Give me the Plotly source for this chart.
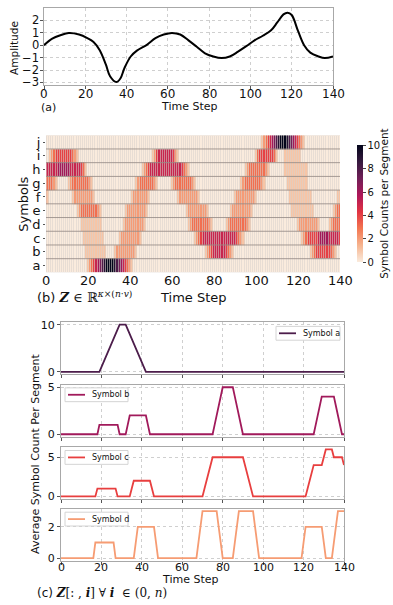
import plotly.graph_objects as go

# ---------------- data ----------------
# (a) signal samples
sig_t = [0, 4, 8, 12, 17, 21, 24, 27, 30, 32, 35, 37, 39, 42, 45, 50, 54, 58, 62, 66, 70,
         74, 78, 82, 86, 90, 94, 98, 102, 106, 110, 113, 116, 118, 120, 123, 126, 129, 133, 136, 140]
sig_v = [0.0, 0.52, 0.80, 0.98, 0.86, 0.57, 0.26, -0.40, -1.57, -2.50, -2.97, -2.68, -1.83, -0.91,
         -0.44, 0.05, 0.57, 0.86, 0.99, 0.86, 0.39, -0.13, -0.65, -0.91, -1.04, -0.91, -0.52, -0.08,
         0.39, 0.76, 1.20, 1.83, 2.48, 2.62, 2.43, 1.17, 0.0, -0.60, -0.91, -1.04, -0.91]
amp_tick_values = [-3, -2, -1, 0, 1, 2]

time_steps = list(range(141))
symbols = ["a", "b", "c", "d", "e", "f", "g", "h", "i", "j"]
x_tick_values = [0, 20, 40, 60, 80, 100, 120, 140]

sym_a = [0, 0, 0, 0, 0, 0, 0, 0, 0, 0,
         0, 0, 0, 0, 0, 0, 0, 0, 0, 0,
         1, 2, 3, 4, 5, 6, 7, 8, 9, 10,
         10, 10, 10, 9, 8, 7, 6, 5, 4, 3,
         2, 1, 0, 0, 0, 0, 0, 0, 0, 0,
         0, 0, 0, 0, 0, 0, 0, 0, 0, 0,
         0, 0, 0, 0, 0, 0, 0, 0, 0, 0,
         0, 0, 0, 0, 0, 0, 0, 0, 0, 0,
         0, 0, 0, 0, 0, 0, 0, 0, 0, 0,
         0, 0, 0, 0, 0, 0, 0, 0, 0, 0,
         0, 0, 0, 0, 0, 0, 0, 0, 0, 0,
         0, 0, 0, 0, 0, 0, 0, 0, 0, 0,
         0, 0, 0, 0, 0, 0, 0, 0, 0, 0,
         0, 0, 0, 0, 0, 0, 0, 0, 0, 0,
         0]
sym_b = [0, 0, 0, 0, 0, 0, 0, 0, 0, 0,
         0, 0, 0, 0, 0, 0, 0, 0, 0, 1,
         1, 1, 1, 1, 1, 1, 1, 1, 1, 0,
         0, 0, 0, 1, 2, 2, 2, 2, 2, 2,
         2, 2, 2, 1, 0, 0, 0, 0, 0, 0,
         0, 0, 0, 0, 0, 0, 0, 0, 0, 0,
         0, 0, 0, 0, 0, 0, 0, 0, 0, 0,
         0, 0, 0, 0, 0, 0, 1, 2, 3, 4,
         5, 5, 5, 5, 5, 5, 4, 3, 2, 1,
         0, 0, 0, 0, 0, 0, 0, 0, 0, 0,
         0, 0, 0, 0, 0, 0, 0, 0, 0, 0,
         0, 0, 0, 0, 0, 0, 0, 0, 0, 0,
         0, 0, 0, 0, 0, 0, 1, 2, 3, 4,
         4, 4, 4, 4, 4, 4, 3, 2, 1, 0,
         0]
sym_c = [0, 0, 0, 0, 0, 0, 0, 0, 0, 0,
         0, 0, 0, 0, 0, 0, 0, 0, 1, 1,
         1, 1, 1, 1, 1, 1, 1, 1, 0, 0,
         0, 0, 0, 0, 0, 1, 2, 2, 2, 2,
         2, 2, 2, 2, 2, 1, 0, 0, 0, 0,
         0, 0, 0, 0, 0, 0, 0, 0, 0, 0,
         0, 0, 0, 0, 0, 0, 0, 0, 0, 0,
         0, 1, 2, 3, 4, 5, 5, 5, 5, 5,
         5, 5, 5, 5, 5, 5, 5, 5, 5, 5,
         5, 4, 3, 2, 1, 0, 0, 0, 0, 0,
         0, 0, 0, 0, 0, 0, 0, 0, 0, 0,
         0, 0, 0, 0, 0, 0, 0, 0, 0, 0,
         0, 0, 1, 2, 3, 4, 4, 4, 4, 4,
         5, 6, 6, 6, 6, 5, 5, 5, 5, 5,
         4]
sym_d = [0, 0, 0, 0, 0, 0, 0, 0, 0, 0,
         0, 0, 0, 0, 0, 0, 0, 1, 1, 1,
         1, 1, 1, 1, 1, 1, 1, 0, 0, 0,
         0, 0, 0, 0, 0, 0, 0, 1, 2, 2,
         2, 2, 2, 2, 2, 2, 2, 1, 0, 0,
         0, 0, 0, 0, 0, 0, 0, 0, 0, 0,
         0, 0, 0, 0, 0, 0, 0, 0, 1, 2,
         3, 3, 3, 3, 3, 3, 3, 3, 2, 1,
         0, 0, 0, 0, 0, 0, 1, 2, 3, 3,
         3, 3, 3, 3, 3, 3, 2, 1, 0, 0,
         0, 0, 0, 0, 0, 0, 0, 0, 0, 0,
         0, 0, 0, 0, 0, 0, 0, 0, 0, 0,
         1, 2, 2, 2, 2, 2, 2, 2, 2, 2,
         1, 0, 0, 0, 0, 1, 2, 3, 3, 3,
         3]
sym_e = [0, 0, 0, 0, 0, 0, 0, 0, 0, 0,
         0, 0, 0, 0, 0, 1, 2, 3, 3, 3,
         3, 3, 3, 3, 3, 2, 1, 0, 0, 0,
         0, 0, 0, 0, 0, 0, 0, 0, 1, 2,
         2, 2, 2, 2, 2, 2, 2, 2, 1, 0,
         0, 0, 0, 0, 0, 0, 0, 0, 0, 0,
         0, 0, 0, 0, 0, 0, 0, 1, 2, 2,
         2, 2, 2, 2, 2, 2, 2, 1, 0, 0,
         0, 0, 0, 0, 0, 0, 0, 0, 1, 2,
         2, 2, 2, 2, 2, 2, 2, 2, 1, 0,
         0, 0, 0, 0, 0, 0, 0, 0, 0, 0,
         0, 0, 0, 0, 0, 0, 0, 1, 1, 1,
         1, 1, 1, 1, 1, 1, 1, 1, 0, 0,
         0, 0, 0, 0, 0, 0, 0, 1, 2, 3,
         3]
sym_f = [2, 1, 0, 0, 0, 0, 0, 0, 0, 0,
         0, 0, 0, 1, 2, 2, 2, 2, 2, 2,
         2, 2, 2, 1, 0, 0, 0, 0, 0, 0,
         0, 0, 0, 0, 0, 0, 0, 0, 0, 0,
         0, 1, 2, 2, 2, 2, 2, 2, 2, 1,
         0, 0, 0, 0, 0, 0, 0, 0, 0, 0,
         0, 0, 0, 1, 2, 2, 2, 2, 2, 2,
         2, 2, 2, 1, 0, 0, 0, 0, 0, 0,
         0, 0, 0, 0, 0, 0, 0, 0, 0, 0,
         1, 2, 2, 2, 2, 2, 2, 2, 2, 2,
         1, 0, 0, 0, 0, 0, 0, 0, 0, 0,
         0, 0, 0, 0, 0, 0, 1, 1, 1, 1,
         1, 1, 1, 1, 1, 1, 1, 0, 0, 0,
         0, 0, 0, 0, 0, 0, 0, 0, 0, 1,
         1]
sym_g = [3, 3, 3, 3, 2, 1, 0, 0, 0, 0,
         0, 1, 2, 3, 3, 3, 3, 3, 3, 3,
         3, 2, 1, 0, 0, 0, 0, 0, 0, 0,
         0, 0, 0, 0, 0, 0, 0, 0, 0, 0,
         0, 0, 0, 1, 2, 3, 3, 3, 3, 3,
         3, 3, 2, 1, 0, 0, 0, 0, 0, 0,
         1, 2, 3, 3, 3, 3, 3, 3, 3, 3,
         2, 1, 0, 0, 0, 0, 0, 0, 0, 0,
         0, 0, 0, 0, 0, 0, 0, 0, 0, 0,
         0, 0, 0, 1, 2, 3, 3, 3, 3, 3,
         3, 3, 3, 2, 1, 0, 0, 0, 0, 0,
         0, 0, 0, 0, 0, 1, 1, 1, 1, 1,
         1, 1, 1, 1, 1, 0, 0, 0, 0, 0,
         0, 0, 0, 0, 0, 0, 0, 0, 0, 0,
         0]
sym_h = [5, 5, 5, 5, 5, 5, 6, 6, 6, 6,
         6, 6, 5, 5, 5, 5, 5, 4, 3, 1,
         0, 0, 0, 0, 0, 0, 0, 0, 0, 0,
         0, 0, 0, 0, 0, 0, 0, 0, 0, 0,
         0, 0, 0, 0, 0, 0, 1, 2, 3, 4,
         5, 5, 5, 5, 5, 5, 5, 5, 5, 5,
         5, 5, 5, 5, 5, 4, 3, 2, 1, 0,
         0, 0, 0, 0, 0, 0, 0, 0, 0, 0,
         0, 0, 0, 0, 0, 0, 0, 0, 0, 0,
         0, 0, 0, 0, 0, 1, 2, 3, 3, 3,
         3, 3, 3, 3, 3, 2, 1, 0, 0, 0,
         0, 0, 0, 0, 1, 1, 1, 1, 1, 1,
         1, 1, 1, 1, 1, 0, 0, 0, 0, 0,
         0, 0, 0, 0, 0, 0, 0, 0, 0, 0,
         0]
sym_i = [0, 0, 1, 2, 3, 4, 4, 4, 4, 4,
         4, 4, 4, 3, 2, 1, 0, 0, 0, 0,
         0, 0, 0, 0, 0, 0, 0, 0, 0, 0,
         0, 0, 0, 0, 0, 0, 0, 0, 0, 0,
         0, 0, 0, 0, 0, 0, 0, 0, 0, 0,
         0, 1, 2, 4, 5, 5, 5, 5, 5, 5,
         5, 4, 2, 1, 0, 0, 0, 0, 0, 0,
         0, 0, 0, 0, 0, 0, 0, 0, 0, 0,
         0, 0, 0, 0, 0, 0, 0, 0, 0, 0,
         0, 0, 0, 0, 0, 0, 0, 0, 0, 0,
         1, 3, 4, 4, 4, 4, 4, 4, 4, 3,
         1, 0, 0, 0, 1, 1, 1, 1, 1, 1,
         1, 1, 0, 0, 0, 0, 0, 0, 0, 0,
         0, 0, 0, 0, 0, 0, 0, 0, 0, 0,
         0]
sym_j = [0, 0, 0, 0, 0, 0, 0, 0, 0, 0,
         0, 0, 0, 0, 0, 0, 0, 0, 0, 0,
         0, 0, 0, 0, 0, 0, 0, 0, 0, 0,
         0, 0, 0, 0, 0, 0, 0, 0, 0, 0,
         0, 0, 0, 0, 0, 0, 0, 0, 0, 0,
         0, 0, 0, 0, 0, 0, 0, 0, 0, 0,
         0, 0, 0, 0, 0, 0, 0, 0, 0, 0,
         0, 0, 0, 0, 0, 0, 0, 0, 0, 0,
         0, 0, 0, 0, 0, 0, 0, 0, 0, 0,
         0, 0, 0, 0, 0, 0, 0, 0, 0, 0,
         0, 0, 0, 1, 2, 3, 4, 5, 6, 7,
         8, 9, 10, 10, 10, 9, 8, 7, 6, 5,
         4, 3, 2, 1, 0, 0, 0, 0, 0, 0,
         0, 0, 0, 0, 0, 0, 0, 0, 0, 0,
         0]

rows = [sym_a, sym_b, sym_c, sym_d, sym_e, sym_f, sym_g, sym_h, sym_i, sym_j]
for r in rows:
    assert len(r) == 141, len(r)

line_names = ["Symbol a", "Symbol b", "Symbol c", "Symbol d"]
line_colors = ["#4c1d4b", "#a11a5b", "#e83f3f", "#f69c73"]

rocket_r = [[0.0, "#faebdd"], [1 / 7, "#f6b48f"], [2 / 7, "#f37651"], [3 / 7, "#e13342"],
            [4 / 7, "#ad1759"], [5 / 7, "#701f57"], [6 / 7, "#35193e"], [1.0, "#03051a"]]

# ---------------- layout helpers ----------------
W, H = 393, 605
FONT = "DejaVu Sans"
TXT = "#111111"
SPINE = "#a8a8a8"
GRID = "#cfcfcf"


def fx(p):
    return p / W


def fy(p):
    return 1 - p / H


fig = go.Figure()

# (a) signal
fig.add_trace(go.Scatter(x=sig_t, y=sig_v, mode="lines",
                         line=dict(color="black", width=2, shape="spline", smoothing=1.0),
                         xaxis="x", yaxis="y", showlegend=False, hoverinfo="skip"))

# (b) heatmap
fig.add_trace(go.Heatmap(
    z=rows, x=time_steps, y=list(range(10)), colorscale=rocket_r, zmin=0, zmax=10,
    xgap=0.55, xaxis="x2", yaxis="y2", showscale=True, hoverinfo="skip",
    colorbar=dict(x=fx(357), xanchor="left", xpad=0, y=fy(202.5), yanchor="middle",
                  len=139 / H, lenmode="fraction", thickness=6, outlinewidth=0,
                  tickvals=[0, 2, 4, 6, 8, 10], ticks="outside", ticklen=3,
                  tickfont=dict(family=FONT, size=10, color=TXT)),
))

# (c) line panels
for k in range(4):
    fig.add_trace(go.Scatter(x=time_steps, y=rows[k], mode="lines", name=line_names[k],
                             line=dict(color=line_colors[k], width=1.8),
                             xaxis="x%d" % (k + 3), yaxis="y%d" % (k + 3),
                             showlegend=False, hoverinfo="skip"))

common_line_axis = dict(showline=True, mirror=True, linecolor=SPINE, linewidth=1,
                        showgrid=True, gridcolor=GRID, griddash="dot", gridwidth=1,
                        zeroline=False, ticks="outside", ticklen=3, tickcolor="#555555")

layout = dict(
    width=W, height=H, margin=dict(l=0, r=0, t=0, b=0),
    paper_bgcolor="white", plot_bgcolor="white",
    font=dict(family=FONT, color=TXT),
    xaxis=dict(domain=[fx(44), fx(333)], range=[0, 140], tickvals=x_tick_values, anchor="y",
               showticklabels=False, **common_line_axis),
    yaxis=dict(domain=[fy(82), fy(4)], range=[-3.2, 3.0], tickvals=amp_tick_values,
               anchor="x", showticklabels=False, **common_line_axis),
    xaxis2=dict(domain=[fx(46), fx(340)], range=[0, 140], tickvals=x_tick_values, anchor="y2",
                showgrid=False, zeroline=False, showline=False, ticks="",
                showticklabels=False),
    yaxis2=dict(domain=[fy(272), fy(133)], range=[-0.5, 9.5], tickvals=list(range(10)),
                ticktext=symbols, anchor="x2", showgrid=False, zeroline=False, showline=False,
                ticks="outside", ticklen=2, tickcolor="#555555", tickfont=dict(size=13)),
)

c_domains = [(322.6, 375.1), (386.0, 438.4), (449.0, 501.4), (511.5, 564.0)]
c_ranges = [[-0.5, 10.5], [-0.25, 5.25], [-0.3, 6.3], [-0.15, 3.15]]
c_ticks = [[0, 10], [0, 5], [0, 5], [0, 2]]
for k in range(4):
    n = k + 3
    top, bot = c_domains[k]
    layout["xaxis%d" % n] = dict(domain=[fx(61), fx(344)], range=[0, 140], tickvals=x_tick_values,
                                 anchor="y%d" % n, showticklabels=False, **common_line_axis)
    layout["yaxis%d" % n] = dict(domain=[fy(bot), fy(top)], range=c_ranges[k],
                                 tickvals=c_ticks[k], anchor="x%d" % n,
                                 tickfont=dict(size=11), **common_line_axis)

fig.update_layout(**layout)

# heatmap cell gaps background and row separators
shapes = [dict(type="rect", xref="x2", yref="y2", x0=0, x1=140, y0=-0.5, y1=9.5,
               fillcolor="#d9d2cc", line=dict(width=0), layer="below")]
for k in range(9):
    shapes.append(dict(type="line", xref="x2", yref="y2", x0=0, x1=140, y0=k + 0.5, y1=k + 0.5,
                       line=dict(color="rgba(150,140,135,0.85)", width=1), layer="above"))

# hand-built legends (box, line sample, label) for panel (c)
legend_boxes = [(276, 340, 326.7, 340.7), (65, 128, 389, 403), (65, 128, 452.5, 466.5),
                (65, 128, 515, 529)]
extra_ann = []
for k in range(4):
    x0, x1, y0, y1 = legend_boxes[k]
    yc = (y0 + y1) / 2
    shapes.append(dict(type="rect", xref="paper", yref="paper", x0=fx(x0), x1=fx(x1),
                       y0=fy(y1), y1=fy(y0), fillcolor="white",
                       line=dict(color="#d4d4d4", width=1), layer="above"))
    shapes.append(dict(type="line", xref="paper", yref="paper", x0=fx(x0 + 3), x1=fx(x0 + 20),
                       y0=fy(yc), y1=fy(yc), line=dict(color=line_colors[k], width=1.8),
                       layer="above"))
    extra_ann.append(dict(text=line_names[k], x=fx(x0 + 25), y=fy(yc), xanchor="left",
                          yref="paper", font=dict(size=8)))
fig.update_layout(shapes=shapes)

# x tick labels placed on the data scale of each axis
for xref, ypx, size in [("x", 91, 12), ("x2", 280, 13), ("x6", 571.5, 11)]:
    for t in x_tick_values:
        extra_ann.append(dict(text=str(t), x=t, xref=xref, y=fy(ypx), yref="paper",
                              font=dict(size=size)))
# y tick labels of panel (a) on its data scale
for v in amp_tick_values:
    label = ("\u2212%d" % -v) if v < 0 else str(v)
    extra_ann.append(dict(text=label, x=fx(40.5), xanchor="right", y=v, yref="y",
                          font=dict(size=11.5)))

serif = "DejaVu Serif"
ann = [
    dict(text="Amplitude", x=fx(14.5), y=fy(44), textangle=-90, font=dict(size=10.5)),
    dict(text="Time Step", x=fx(189), y=fy(104), font=dict(size=11)),
    dict(text="(a)", x=fx(39), y=fy(105), xanchor="left", font=dict(size=11)),
    dict(text="Symbols", x=fx(23.5), y=fy(203), textangle=-90, font=dict(size=13)),
    dict(text="Symbol Counts per Segment", x=fx(384), y=fy(202.5), textangle=-90,
         font=dict(size=10.5)),
    dict(text="Time Step", x=fx(193), y=fy(297), font=dict(size=13)),
    dict(text='(b) <span style="font-family:%s"><b><i>Z</i></b> ∈ ℝ<sup><i>κ</i>×(<i>n</i>·<i>v</i>)</sup></span>' % serif,
         x=fx(35), y=fy(297), xanchor="left", font=dict(size=13)),
    dict(text="Average Symbol Count Per Segment", x=fx(36), y=fy(456), textangle=-90,
         font=dict(size=11)),
    dict(text="Time Step", x=fx(190), y=fy(583), font=dict(size=11)),
    dict(text='(c) <span style="font-family:%s"><b><i>Z</i></b>[: , <b><i>i</i></b>] ∀ <b><i>i</i></b>  ∈ (0, <i>n</i>)</span>' % serif,
         x=fx(35), y=fy(597), xanchor="left", font=dict(size=12)),
] + extra_ann
for a in ann:
    a.setdefault("xref", "paper")
    a.setdefault("yref", "paper")
    a["showarrow"] = False
    a.setdefault("xanchor", "center")
    a["yanchor"] = "middle"
    a["font"] = dict(family=FONT, color=TXT, **a["font"])
fig.update_layout(annotations=ann)

fig.write_html("out.html", config={"displayModeBar": False},
               post_script="document.body.style.margin='0px';document.body.style.overflow='hidden';")
